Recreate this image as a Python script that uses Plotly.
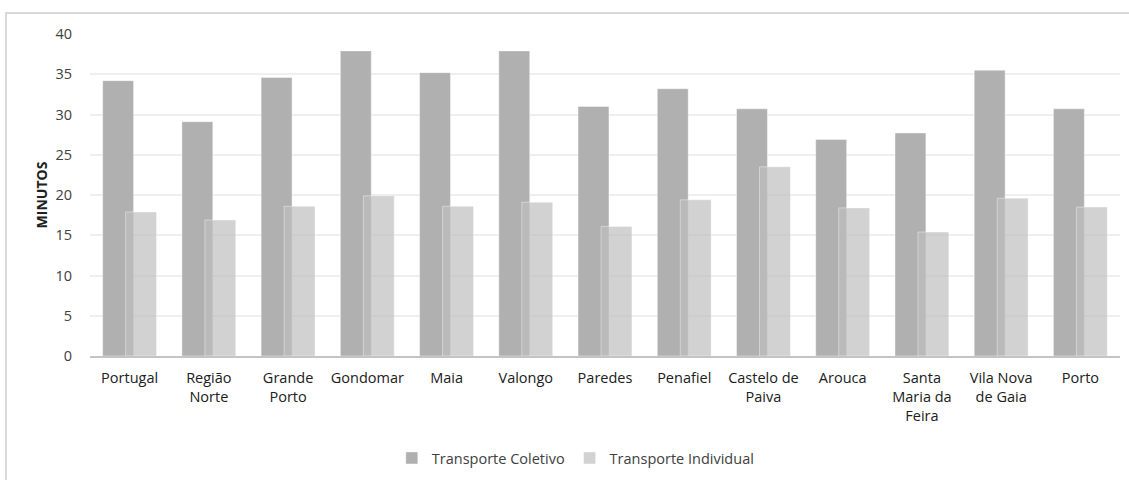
import plotly.graph_objects as go

categories = ["Portugal", "Região<br>Norte", "Grande<br>Porto", "Gondomar", "Maia", "Valongo",
              "Paredes", "Penafiel", "Castelo de<br>Paiva", "Arouca", "Santa<br>Maria da<br>Feira",
              "Vila Nova<br>de Gaia", "Porto"]
coletivo = [34.2, 29.1, 34.6, 37.9, 35.2, 37.9, 31.0, 33.2, 30.7, 26.9, 27.7, 35.5, 30.7]
individual = [17.9, 16.9, 18.6, 19.9, 18.6, 19.1, 16.1, 19.4, 23.5, 18.4, 15.4, 19.6, 18.5]
y_ticks = [0, 5, 10, 15, 20, 25, 30, 35, 40]

FONT = "Open Sans"
TXT = "#404040"

fig = go.Figure()
fig.add_trace(go.Bar(
    x=categories, y=coletivo, name="Transporte Coletivo",
    marker=dict(color="rgb(176,176,176)", line=dict(width=0.8, color="rgba(255,255,255,0.5)")),
    width=0.39, offset=-0.34,
))
fig.add_trace(go.Bar(
    x=categories, y=individual, name="Transporte Individual",
    marker=dict(color="rgba(191,191,191,0.7)", line=dict(width=0.8, color="rgba(255,255,255,0.5)")),
    width=0.39, offset=-0.05,
))

W, H = 1129, 480
L, R, T, B = 90, 9, 34, 124
pw, ph = W - L - R, H - T - B

def px_x(x):
    return (x - L) / pw

def px_y(y):
    return (H - B - y) / ph

fig.update_layout(
    width=W, height=H,
    margin=dict(l=L, r=R, t=T, b=B, autoexpand=False),
    barmode="overlay",
    plot_bgcolor="white", paper_bgcolor="white",
    font=dict(family=FONT, size=14, color=TXT),
    showlegend=True,
    legend=dict(orientation="h", x=0.51, xanchor="center", xref="container",
                y=(H - 458) / H, yanchor="middle", yref="container",
                font=dict(family=FONT, size=14.5, color=TXT), itemwidth=30,
                traceorder="normal"),
    xaxis=dict(
        automargin=False,
        showgrid=False, showline=True, linecolor="#c4c4c4", linewidth=2,
        tickfont=dict(family=FONT, size=14.5, color="#202020"),
        ticks="outside", ticklen=8, tickcolor="rgba(0,0,0,0)",
        range=[-0.5, len(categories) - 0.5],
    ),
    yaxis=dict(
        automargin=False,
        range=[0, 40], tickvals=y_ticks, showgrid=True, gridcolor="#efefef", gridwidth=1.5,
        zeroline=False, showline=False,
        ticks="outside", ticklen=14, tickcolor="rgba(0,0,0,0)",
        tickfont=dict(family=FONT, size=14.5, color=TXT),
        title=dict(text="MINUTOS", font=dict(family=FONT, size=14, color="#202020", weight=700),
                   standoff=4),
    ),
    shapes=[
        dict(type="line", xref="paper", yref="paper", x0=px_x(5), x1=px_x(1129), y0=px_y(13), y1=px_y(13),
             line=dict(color="#d9d9d9", width=2)),
        dict(type="line", xref="paper", yref="paper", x0=px_x(6), x1=px_x(6), y0=px_y(13), y1=px_y(480),
             line=dict(color="#d9d9d9", width=2)),
    ],
)

fig.write_html("out.html", config={"displayModeBar": False},
               post_script="document.body.style.margin='0';document.body.style.overflow='hidden';")
